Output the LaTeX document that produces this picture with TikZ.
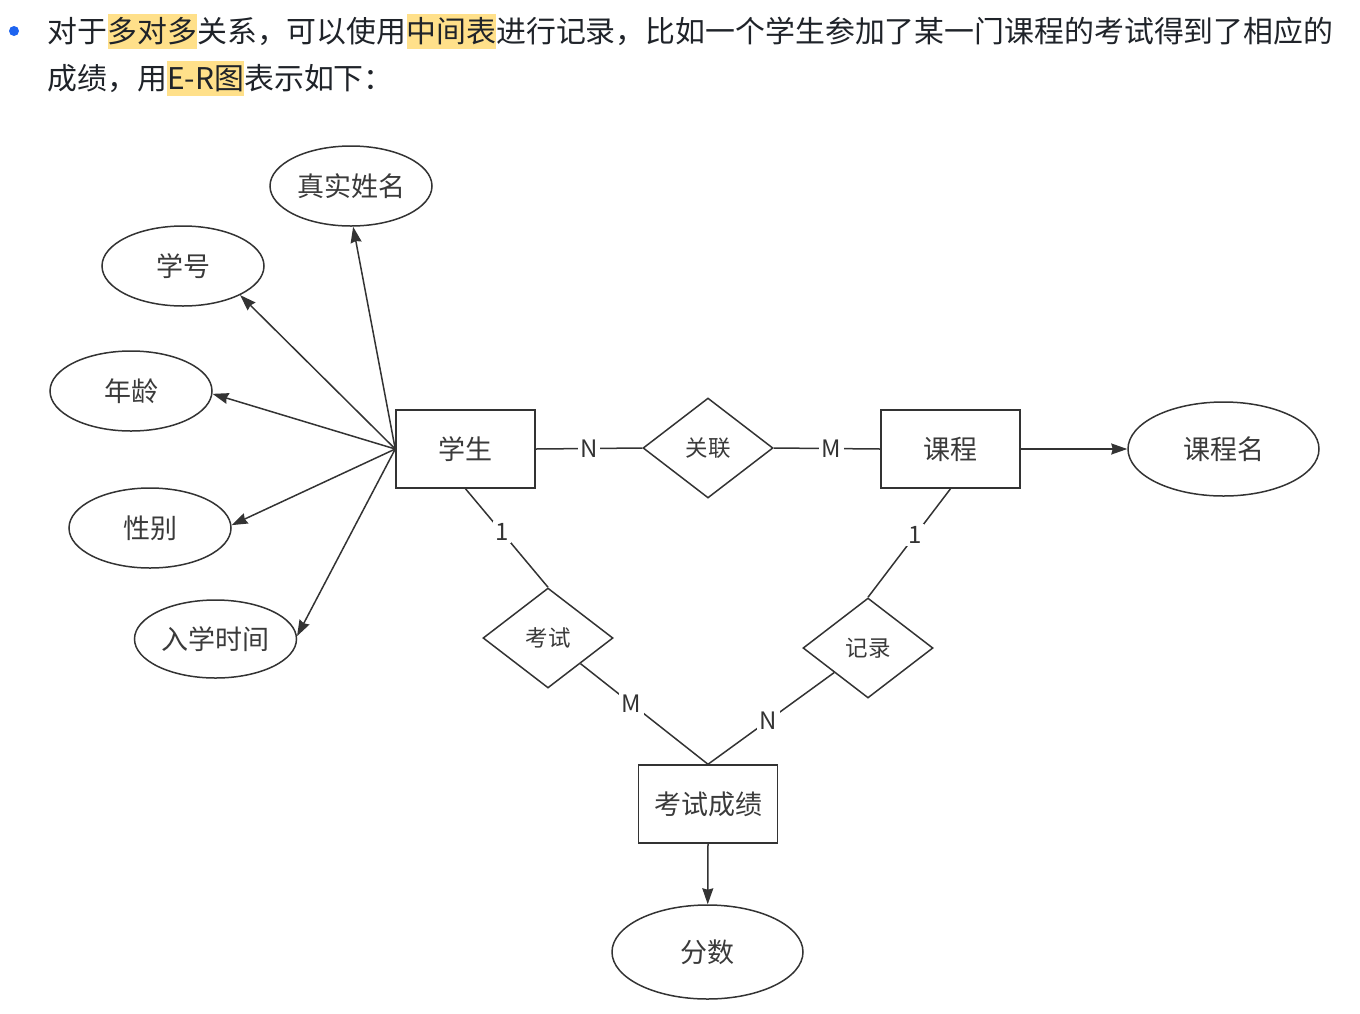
\documentclass[tikz,border=0pt]{standalone}
\usepackage{fontspec}
\setmainfont{Noto Sans CJK SC}
\usetikzlibrary{shapes.geometric,arrows.meta}
\definecolor{hly}{HTML}{FFE08A}
\definecolor{ink}{HTML}{333333}
\definecolor{ntxt}{HTML}{3A3A3A}
\definecolor{htxt}{HTML}{1F2329}
\definecolor{bul}{HTML}{1E64F0}
\newcommand{\hlbox}[1]{{\setlength{\fboxsep}{0pt}\colorbox{hly}{\rule[-6.5pt]{0pt}{35pt}#1}}}
\begin{document}
\begin{tikzpicture}[x=1pt,y=-1pt,line width=1.5pt,
  ent/.style={draw=ink, rectangle, minimum width=139pt, minimum height=78pt, inner sep=0pt, font=\fontsize{27}{30}\selectfont, text=ntxt},
  attr/.style={draw=ink, ellipse, minimum width=162pt, minimum height=80pt, inner sep=0pt, font=\fontsize{27}{30}\selectfont, text=ntxt},
  bigattr/.style={attr, minimum width=191pt, minimum height=94pt},
  rel/.style={draw=ink, diamond, minimum width=130pt, minimum height=100pt, aspect=1.3, inner sep=0pt, font=\fontsize{22.5}{25}\selectfont, text=ntxt},
  lbl/.style={fill=white, inner sep=2.5pt, font=\fontsize{24}{26}\selectfont, text=ink},
  arr/.style={draw=ink, -{Stealth[length=16pt,width=11pt,inset=1.5pt]}},
  con/.style={draw=ink},
  head/.style={anchor=base west, inner sep=0pt, font=\fontsize{29.9}{35}\selectfont, text=htxt}
]
\useasboundingbox (0,0) rectangle (1360,1013);

% header
\node[circle, fill=bul, minimum size=10pt, inner sep=0pt] (bullet) at (14,31) {};
\node[head] (line1) at (47,42) {对于\hlbox{多对多}关系，可以使用\hlbox{中间表}进行记录，比如一个学生参加了某一门课程的考试得到了相应的};
\node[head] (line2) at (47,89) {成绩，用\hlbox{E-R图}表示如下：};

% entities
\node[ent] (xs) at (465.5,449) {学生};
\node[ent] (kc) at (950.5,449) {课程};
\node[ent] (cj) at (708,804) {考试成绩};

% relations
\node[rel] (gl) at (708,448) {关联};
\node[rel] (ks) at (548,638) {考试};
\node[rel] (jl) at (868,648) {记录};

% attributes
\node[attr] (zsxm) at (351,186) {真实姓名};
\node[attr] (xh) at (183,266) {学号};
\node[attr] (nl) at (131,391) {年龄};
\node[attr] (xb) at (150,528) {性别};
\node[attr, minimum height=78pt] (rxsj) at (215.5,639) {入学时间};
\node[bigattr] (kcm) at (1223.5,449) {课程名};
\node[bigattr] (fs) at (707.5,952) {分数};

% attribute arrows
\draw[arr] (xs.west) -- (zsxm.273);
\draw[arr] (xs.west) -- (xh.333);
\draw[arr] (xs.west) -- (nl.358);
\draw[arr] (xs.west) -- (xb.2);
\draw[arr] (xs.west) -- (rxsj.2);
\draw[arr] (kc.east) -- (kcm);
\draw[arr] (cj.south) -- (fs);

% relationship lines
\draw[con] (xs.east) -- node[lbl, pos=0.5] {N} (gl.west);
\draw[con] (gl.east) -- node[lbl, pos=0.54] {M} (kc.west);
\draw[con] (xs.south) -- node[lbl, pos=0.44] {1} (ks.north);
\draw[con] (kc.south) -- node[lbl, pos=0.43] {1} (jl.north);
\draw[con] (ks) -- node[lbl, pos=0.4] {M} (cj.north);
\draw[con] (jl) -- node[lbl, pos=0.52] {N} (cj.north);
\end{tikzpicture}
\end{document}
